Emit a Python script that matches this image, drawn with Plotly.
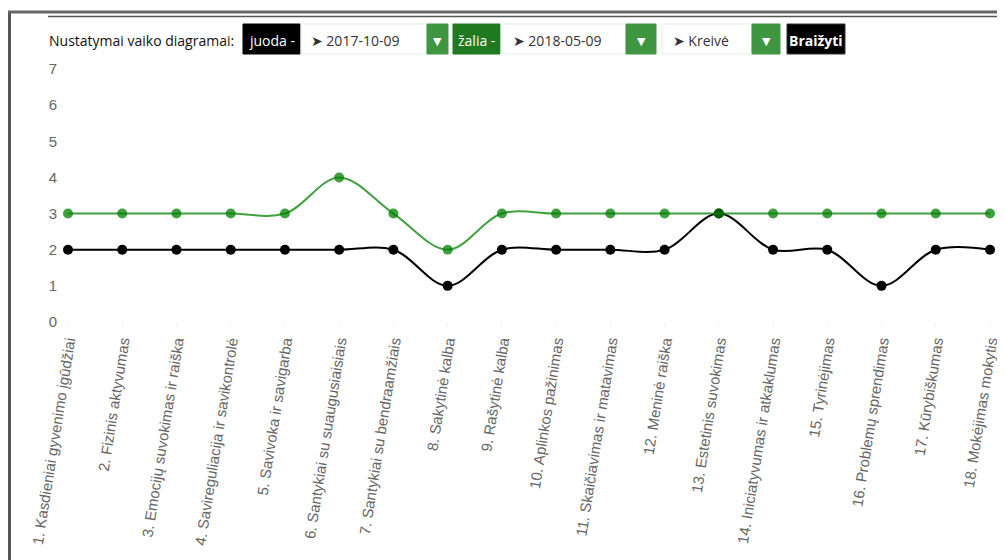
import plotly.graph_objects as go

categories = [
    "1. Kasdieniai gyvenimo įgūdžiai",
    "2. Fizinis aktyvumas",
    "3. Emocijų suvokimas ir raiška",
    "4. Savireguliacija ir savikontrolė",
    "5. Savivoka ir savigarba",
    "6. Santykiai su suaugusiaisiais",
    "7. Santykiai su bendraamžiais",
    "8. Sakytinė kalba",
    "9. Rašytinė kalba",
    "10. Aplinkos pažinimas",
    "11. Skaičiavimas ir matavimas",
    "12. Meninė raiška",
    "13. Estetinis suvokimas",
    "14. Iniciatyvumas ir atkaklumas",
    "15. Tyrinėjimas",
    "16. Problemų sprendimas",
    "17. Kūrybiškumas",
    "18. Mokėjimas mokytis",
]
black_2017_10_09 = [2, 2, 2, 2, 2, 2, 2, 1, 2, 2, 2, 2, 3, 2, 2, 1, 2, 2]
green_2018_05_09 = [3, 3, 3, 3, 3, 4, 3, 2, 3, 3, 3, 3, 3, 3, 3, 3, 3, 3]
y_ticks = [0, 1, 2, 3, 4, 5, 6, 7]

# the page body has an 8px margin: the figure starts at (8, 8) in the window
OFF = 8
W, H = 1005 - OFF, 560 - OFF
def px(x): return (x - OFF) / W
def py(y): return 1 - (y - OFF) / H

fig = go.Figure()
fig.add_trace(go.Scatter(
    x=categories, y=black_2017_10_09, mode="lines+markers",
    line=dict(color="black", width=2, shape="spline", smoothing=1.0),
    marker=dict(color="black", size=10), cliponaxis=False, showlegend=False))
fig.add_trace(go.Scatter(
    x=categories, y=green_2018_05_09, mode="lines+markers",
    line=dict(color="rgba(0,128,0,0.75)", width=2, shape="spline", smoothing=1.0),
    marker=dict(color="rgba(0,128,0,0.75)", size=10), cliponaxis=False, showlegend=False))

shapes = []
annotations = []
# page frame
shapes.append(dict(type="line", xref="paper", yref="paper", x0=px(9.5), x1=px(9.5), y0=py(11), y1=py(560),
                   line=dict(color="#555", width=3)))
shapes.append(dict(type="line", xref="paper", yref="paper", x0=px(8), x1=px(1005), y0=py(12), y1=py(12),
                   line=dict(color="#666", width=3)))
shapes.append(dict(type="line", xref="paper", yref="paper", x0=px(48), x1=px(998), y0=py(16.5), y1=py(16.5),
                   line=dict(color="#555", width=1.5)))
shapes.append(dict(type="rect", xref="paper", yref="paper", x0=px(1000), x1=px(1005), y0=py(300), y1=py(548),
                   line=dict(width=0), fillcolor="#c8c8c8"))

font_ui = "Open Sans, DejaVu Sans, sans-serif"
annotations.append(dict(text="Nustatymai vaiko diagramai:", xref="paper", yref="paper", x=px(47), y=py(40),
                        xanchor="left", yanchor="middle", showarrow=False,
                        font=dict(family=font_ui, size=14, color="#111")))

def box(x0, x1, fill, border=None):
    shapes.append(dict(type="rect", xref="paper", yref="paper", x0=px(x0), x1=px(x1), y0=py(24), y1=py(54),
                       fillcolor=fill, line=dict(color=border or fill, width=1)))

def label(x, text, color, anchor="left", size=14, weight="normal"):
    annotations.append(dict(text=text, xref="paper", yref="paper", x=px(x), y=py(40),
                            xanchor=anchor, yanchor="middle", showarrow=False,
                            font=dict(family=font_ui, size=size, color=color, weight=weight)))

# juoda
box(243, 300, "black"); label(271.5, "juoda -", "white", "center")
box(301, 427, "white", "#dff0df"); label(309, "➤ 2017-10-09", "#333")
box(427, 448, "#3f9640"); label(437.5, "▼", "white", "center", 11)
# žalia
box(453, 500, "#1f7a1f"); label(476.5, "žalia -", "white", "center")
box(501, 626, "white", "#dff0df"); label(511, "➤ 2018-05-09", "#333")
box(626, 656, "#3f9640"); label(641, "▼", "white", "center", 11)
# Kreivė
box(662, 752, "white", "#dff0df"); label(671, "➤ Kreivė", "#333")
box(752, 780, "#3f9640"); label(766, "▼", "white", "center", 11)
# Braižyti
box(787, 845, "black", "#333"); label(816, "Braižyti", "white", "center", 14, "bold")

fig.update_layout(
    width=W, height=H, margin=dict(l=0, r=0, t=0, b=0, autoexpand=False),
    paper_bgcolor="white", plot_bgcolor="white",
    shapes=shapes, annotations=annotations,
    xaxis=dict(domain=[px(68), px(990)], range=[0, 17], type="category", automargin=False,
               tickangle=-81, tickfont=dict(family="Liberation Sans, Arial", size=15, color="#666"),
               showgrid=False, zeroline=False, showline=False,
               ticks="outside", ticklen=4, tickcolor="rgba(0,0,0,0.06)"),
    yaxis=dict(domain=[py(322), py(69)], range=[0, 7], tickvals=y_ticks, automargin=False,
               tickfont=dict(family="Liberation Sans, Arial", size=15, color="#666"),
               showgrid=False, zeroline=False, showline=False, ticklabelstandoff=10),
)

fig.write_html("out.html")
